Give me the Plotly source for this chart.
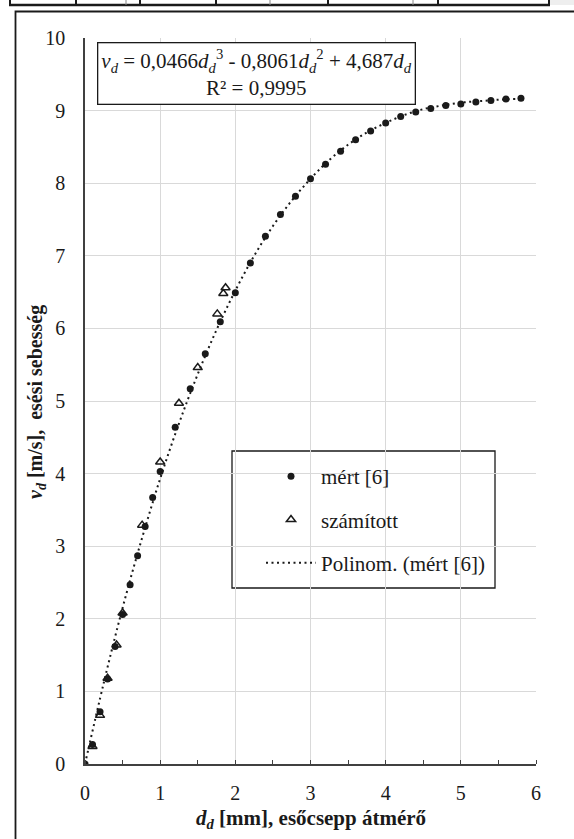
import plotly.graph_objects as go

# measured data (filled circles)
meas_d = [0, 0.1, 0.2, 0.3, 0.4, 0.5, 0.6, 0.7, 0.8, 0.9, 1.0, 1.2, 1.4, 1.6, 1.8, 2.0,
          2.2, 2.4, 2.6, 2.8, 3.0, 3.2, 3.4, 3.6, 3.8, 4.0, 4.2, 4.4, 4.6, 4.8, 5.0,
          5.2, 5.4, 5.6, 5.8]
meas_v = [0, 0.27, 0.72, 1.17, 1.62, 2.06, 2.47, 2.87, 3.27, 3.67, 4.03, 4.64, 5.17,
          5.65, 6.09, 6.49, 6.90, 7.27, 7.57, 7.82, 8.06, 8.26, 8.44, 8.60, 8.72, 8.83,
          8.92, 8.98, 9.03, 9.07, 9.09, 9.12, 9.14, 9.16, 9.17]

# calculated data (open triangles)
calc_d = [0.1, 0.2, 0.3, 0.42, 0.5, 0.76, 1.0, 1.25, 1.5, 1.76, 1.84, 1.87]
calc_v = [0.24, 0.67, 1.18, 1.64, 2.08, 3.29, 4.16, 4.97, 5.46, 6.20, 6.48, 6.56]

# polynomial trendline
trend_d = [0, 0.25, 0.5, 0.75, 1.0, 1.25, 1.5, 1.75, 2.0, 2.25, 2.5, 2.75, 3.0, 3.25,
           3.5, 3.75, 4.0, 4.25, 4.5, 4.75, 5.0, 5.25, 5.5, 5.75, 5.8]
trend_v = [0, 1.12, 2.15, 3.08, 3.93, 4.69, 5.37, 5.98, 6.52, 7.00, 7.41, 7.76, 8.06,
           8.32, 8.53, 8.70, 8.83, 8.94, 9.02, 9.07, 9.11, 9.13, 9.15, 9.16, 9.16]

x_ticks = [0, 1, 2, 3, 4, 5, 6]
y_ticks = [0, 1, 2, 3, 4, 5, 6, 7, 8, 9, 10]

FONT = "Liberation Serif, Times New Roman, serif"
W, H = 574, 839
L, R, T, B = 85, 536, 38, 764  # plot area in px


def px(xp):
    return (xp - L) / (R - L)


def py(yp):
    return (B - yp) / (B - T)


fig = go.Figure()
fig.add_trace(go.Scatter(
    x=meas_d, y=meas_v, mode="markers", name="mért [6]", legendgroup="a",
    marker=dict(symbol="circle", size=7, color="#1a1a1a"),
))
fig.add_trace(go.Scatter(
    x=calc_d, y=calc_v, mode="markers", name="számított", legendgroup="b",
    marker=dict(symbol="triangle-up-open", size=8, color="#1a1a1a",
                line=dict(width=1.5, color="#1a1a1a")),
))
fig.add_trace(go.Scatter(
    x=trend_d, y=trend_v, mode="lines", name="Polinom. (mért [6])", legendgroup="c",
    line=dict(color="#1a1a1a", width=2, dash="2px,3.5px", shape="spline"),
))

shapes = []
# outer chart frame
shapes.append(dict(type="rect", xref="paper", yref="paper",
                   x0=px(15.5), x1=px(590), y0=py(850), y1=py(11.5),
                   line=dict(color="#1a1a1a", width=1.8), layer="below"))
# fragment of the table above the chart
shapes.append(dict(type="rect", xref="paper", yref="paper",
                   x0=px(550), x1=px(580), y0=py(5), y1=py(-5),
                   fillcolor="#eeeeee", line=dict(width=0), layer="below"))
shapes.append(dict(type="line", xref="paper", yref="paper",
                   x0=px(9), x1=px(550), y0=py(5), y1=py(5),
                   line=dict(color="#1a1a1a", width=2.5)))
for xv in [10, 76, 140, 216, 328, 438, 549]:
    shapes.append(dict(type="line", xref="paper", yref="paper",
                       x0=px(xv), x1=px(xv), y0=py(5), y1=py(-5),
                       line=dict(color="#1a1a1a", width=2)))
for xv in [126, 270, 413]:
    shapes.append(dict(type="line", xref="paper", yref="paper",
                       x0=px(xv), x1=px(xv), y0=py(5), y1=py(-5),
                       line=dict(color="#888888", width=1)))
# legend frame
shapes.append(dict(type="rect", xref="paper", yref="paper",
                   x0=px(232), x1=px(495), y0=py(588), y1=py(451),
                   line=dict(color="#1a1a1a", width=1.3), fillcolor="white",
                   layer="below"))

annotations = [
    dict(xref="paper", yref="paper", x=px(97), y=py(42), xanchor="left", yanchor="top",
         text=("<i>v<sub>d</sub></i> = 0,0466<i>d<sub>d</sub></i><sup>3</sup> - "
               "0,8061<i>d<sub>d</sub></i><sup>2</sup> + 4,687<i>d<sub>d</sub></i>"
               "<br>R² = 0,9995"),
         showarrow=False, align="center", bgcolor="white", bordercolor="#1a1a1a",
         borderwidth=1.3, borderpad=3, font=dict(family=FONT, size=21, color="#1a1a1a")),
    dict(xref="paper", yref="paper", x=px(311), y=py(819), xanchor="center",
         yanchor="middle", showarrow=False,
         text="<b><i>d<sub>d</sub></i> [mm], esőcsepp átmérő</b>",
         font=dict(family=FONT, size=21, color="#1a1a1a")),
    dict(xref="paper", yref="paper", x=px(37), y=py(402), xanchor="center",
         yanchor="middle", showarrow=False, textangle=-90,
         text="<b><i>v<sub>d</sub></i> [m/s],  esési sebesség</b>",
         font=dict(family=FONT, size=20, color="#1a1a1a")),
]

fig.update_layout(
    width=W, height=H,
    margin=dict(l=L, r=W - R, t=T, b=H - B),
    paper_bgcolor="white", plot_bgcolor="white",
    font=dict(family=FONT, size=20, color="#1a1a1a"),
    shapes=shapes, annotations=annotations,
    showlegend=True,
    legend=dict(x=px(261), y=py(456), xanchor="left", yanchor="top",
                bgcolor="rgba(0,0,0,0)", borderwidth=0, tracegroupgap=13,
                itemwidth=50,
                font=dict(family=FONT, size=21, color="#1a1a1a")),
)
fig.update_xaxes(range=[0, 6], tickvals=x_ticks, ticktext=[str(v) for v in x_ticks],
                 showgrid=True, gridcolor="#d9d9d9", gridwidth=1,
                 showline=True, linecolor="#404040", linewidth=1.5, zeroline=False,
                 ticks="", ticklabelstandoff=10,
                 minor=dict(dtick=0.5, ticks="inside", ticklen=4, tickcolor="#404040",
                            showgrid=False))
fig.update_yaxes(range=[0, 10], tickvals=y_ticks, ticktext=[str(v) for v in y_ticks],
                 showgrid=True, gridcolor="#d9d9d9", gridwidth=1,
                 showline=True, linecolor="#404040", linewidth=1.5, zeroline=False,
                 ticks="", ticklabelstandoff=14)

fig.write_html("out.html", config={"displayModeBar": False},
               post_script="document.body.style.margin='0';")
